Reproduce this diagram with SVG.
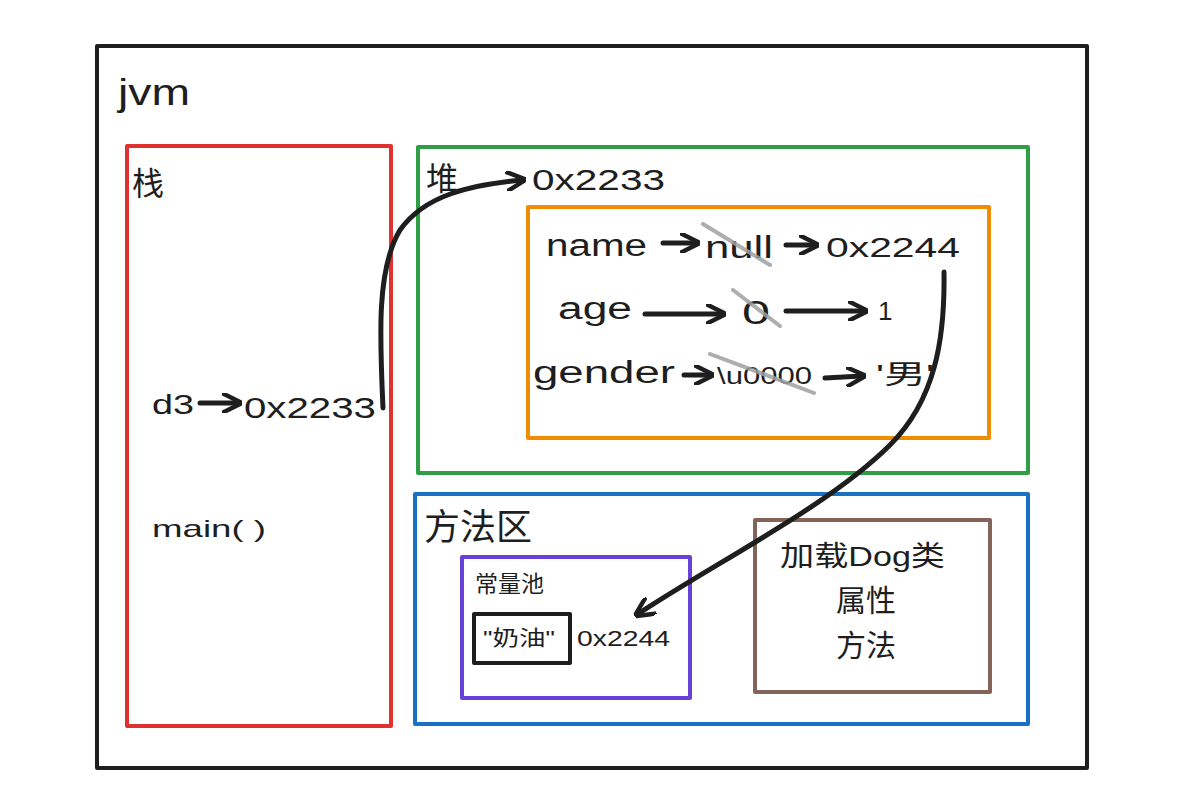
<svg xmlns="http://www.w3.org/2000/svg" width="1182" height="810" viewBox="0 0 1182 810">
<defs>
<style>
.t{font-family:"Liberation Sans","Noto Sans CJK SC",sans-serif;fill:#1e1e1e}
.box{fill:none;stroke-width:4;stroke-linejoin:round}
.c{fill:none;stroke:#1e1e1e;stroke-width:5;stroke-linecap:round}
.s{stroke:#a0a0a0;stroke-width:4;stroke-linecap:round;opacity:0.85}
</style>
<marker id="ah" viewBox="0 0 10 10" refX="8" refY="5" markerWidth="4" markerHeight="4" orient="auto" markerUnits="strokeWidth">
<path d="M0,0 L10,5 L0,10" fill="none" stroke="#1e1e1e" stroke-width="2.2" stroke-linecap="round" stroke-linejoin="round"/>
</marker>
</defs>
<rect width="1182" height="810" fill="#fff"/>
<g id="jvm">
<rect class="box" x="97" y="46" width="990" height="722" stroke="#1e1e1e"/>
<text class="t" x="118" y="105" font-size="36" textLength="72" lengthAdjust="spacingAndGlyphs">jvm</text>
</g>
<g id="stack">
<rect class="box" x="127" y="146" width="264" height="580" stroke="#e03131"/>
<text class="t" x="132" y="195" font-size="32">栈</text>
<text class="t" x="152" y="414" font-size="27" textLength="42" lengthAdjust="spacingAndGlyphs">d3</text>
<text class="t" x="244" y="418" font-size="29" textLength="132" lengthAdjust="spacingAndGlyphs">0x2233</text>
<text class="t" x="152" y="537" font-size="24" textLength="114" lengthAdjust="spacingAndGlyphs">main( )</text>
</g>
<g id="heap">
<rect class="box" x="418" y="147" width="610" height="326" stroke="#2f9e44"/>
<text class="t" x="426" y="190" font-size="32">堆</text>
<text class="t" x="532" y="190" font-size="29" textLength="133" lengthAdjust="spacingAndGlyphs">0x2233</text>
</g>
<g id="object">
<rect class="box" x="528" y="207" width="461" height="231" stroke="#f08c00"/>
<text class="t" x="546" y="256" font-size="31" textLength="101" lengthAdjust="spacingAndGlyphs">name</text>
<text class="t" x="705" y="258" font-size="31" textLength="68" lengthAdjust="spacingAndGlyphs">null</text>
<text class="t" x="826" y="257" font-size="28" textLength="134" lengthAdjust="spacingAndGlyphs">0x2244</text>
<text class="t" x="558" y="319" font-size="31" textLength="74" lengthAdjust="spacingAndGlyphs">age</text>
<text class="t" x="742" y="324" font-size="33" textLength="28" lengthAdjust="spacingAndGlyphs">0</text>
<text class="t" x="878" y="320" font-size="26">1</text>
<text class="t" x="533" y="383" font-size="31" textLength="142" lengthAdjust="spacingAndGlyphs">gender</text>
<text class="t" x="717" y="384" font-size="24" textLength="95" lengthAdjust="spacingAndGlyphs">\u0000</text>
<text class="t" x="876" y="384" font-size="27" textLength="58" lengthAdjust="spacingAndGlyphs">'男'</text>
<line class="s" x1="703" y1="224" x2="770" y2="265"/>
<line class="s" x1="733" y1="290" x2="780" y2="326"/>
<line class="s" x1="710" y1="354" x2="814" y2="393"/>
</g>
<g id="method-area">
<rect class="box" x="415" y="494" width="613" height="230" stroke="#1971c2"/>
<text class="t" x="424" y="540" font-size="36">方法区</text>
</g>
<g id="constant-pool">
<rect class="box" x="462" y="557" width="228" height="141" stroke="#6741d9"/>
<text class="t" x="475" y="592" font-size="23">常量池</text>
<rect class="box" x="474" y="614" width="96" height="49" stroke="#1e1e1e"/>
<text class="t" x="483" y="645" font-size="21" textLength="72" lengthAdjust="spacingAndGlyphs">"奶油"</text>
<text class="t" x="577" y="646" font-size="22" textLength="93" lengthAdjust="spacingAndGlyphs">0x2244</text>
</g>
<g id="dog-class">
<rect class="box" x="755" y="520" width="235" height="172" stroke="#846358"/>
<text class="t" x="780" y="566" font-size="28" textLength="165" lengthAdjust="spacingAndGlyphs">加载Dog类</text>
<text class="t" x="866" y="611" font-size="30" text-anchor="middle">属性</text>
<text class="t" x="866" y="656" font-size="30" text-anchor="middle">方法</text>
</g>
<g id="connectors">
<line class="c" x1="200" y1="403" x2="238" y2="403" marker-end="url(#ah)"/>
<line class="c" x1="663" y1="243" x2="696" y2="243" marker-end="url(#ah)"/>
<line class="c" x1="786" y1="245" x2="815" y2="245" marker-end="url(#ah)"/>
<line class="c" x1="645" y1="314" x2="722" y2="314" marker-end="url(#ah)"/>
<line class="c" x1="786" y1="311" x2="864" y2="311" marker-end="url(#ah)"/>
<line class="c" x1="684" y1="375" x2="710" y2="375" marker-end="url(#ah)"/>
<line class="c" x1="825" y1="378" x2="862" y2="376" marker-end="url(#ah)"/>
<path class="c" d="M383,408 C380,340 376,270 400,230 C425,195 470,185 522,180" marker-end="url(#ah)"/>
<path class="c" d="M944,272 C945,340 935,400 890,445 C830,505 720,560 638,614" marker-end="url(#ah)"/>
</g>
</svg>
